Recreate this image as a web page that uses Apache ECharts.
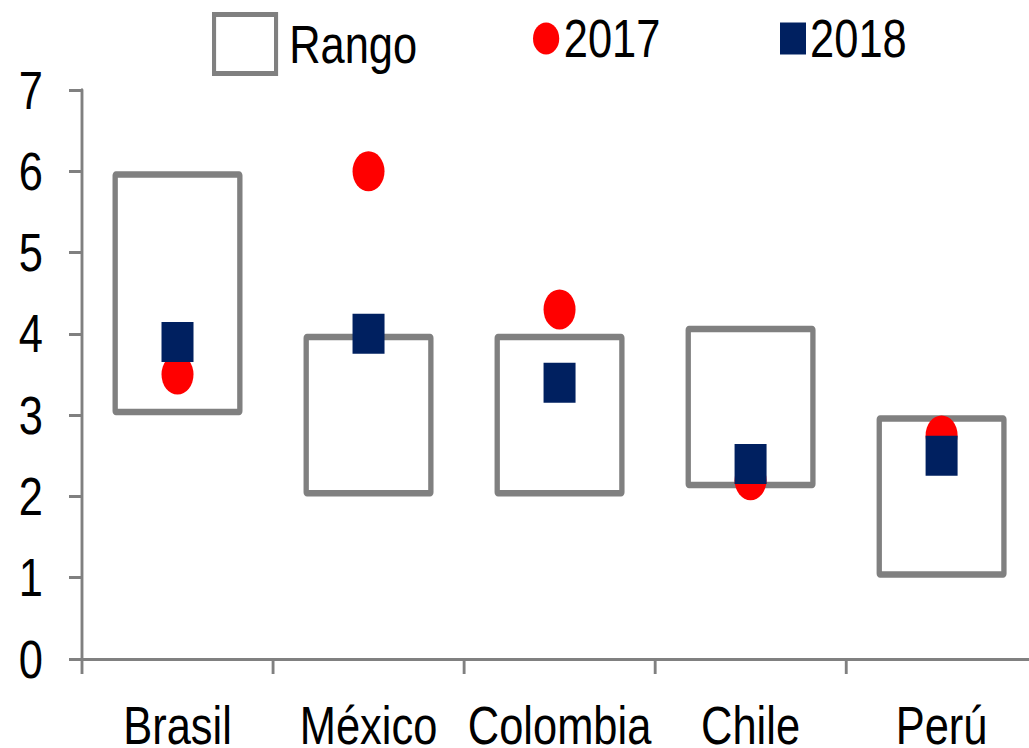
<!DOCTYPE html>
<html>
<head>
<meta charset="utf-8">
<script src="https://cdn.jsdelivr.net/npm/echarts@6/dist/echarts.min.js"></script>
<style>
html,body{margin:0;padding:0;background:#fff;overflow:hidden;}
#wrap{width:1029px;height:748px;overflow:hidden;position:relative;}
#chart{width:1255px;height:748px;transform:scaleX(0.82);transform-origin:0 0;position:absolute;left:0;top:0;}
</style>
</head>
<body>
<div id="wrap"><div id="chart"></div></div>
<script>
var categories = ['Brasil', 'México', 'Colombia', 'Chile', 'Perú'];
var rangoMin = [3, 2, 2, 2.1, 1];
var rangoMax = [6, 4, 4, 4.1, 3];
var v2017 = [3.5, 6.0, 4.3, 2.2, 2.75];
var v2018 = [3.9, 4.0, 3.4, 2.4, 2.5];
var yTicks = [0, 1, 2, 3, 4, 5, 6, 7];

// the page is drawn 1/0.82 wider and squeezed horizontally to imitate a narrow font
var SX = 0.82;
function w(px) { return px / SX; }

var FONT = "'Liberation Sans', Arial, sans-serif";
var GRAY = '#808080';
var RED = '#FF0000';
var NAVY = '#002060';
var ELLIPSE = 'path://M50,0 A50,50 0 1,1 50,100 A50,50 0 1,1 50,0 Z';

var rangoSpan = rangoMax.map(function (v, i) { return +(v - rangoMin[i]).toFixed(4); });

var chart = echarts.init(document.getElementById('chart'), null, {renderer: 'svg'});
chart.setOption({
  animation: false,
  backgroundColor: '#fff',
  grid: {left: w(82), right: w(-8), top: 90, bottom: 89, containLabel: false, outerBoundsMode: 'none'},
  legend: [
    {
      left: w(212), top: 12, padding: 0,
      itemWidth: w(62), itemHeight: 59,
      data: [{name: 'Rango', icon: 'rect', itemStyle: {color: 'rgba(255,255,255,0)', borderColor: GRAY, borderWidth: 5}}],
      textStyle: {fontFamily: FONT, fontSize: 53, color: '#000', padding: [0, 0, 0, w(9)]},
      selectedMode: false
    },
    {
      left: w(533), top: 12, padding: 0,
      itemWidth: w(27), itemHeight: 32,
      data: [{name: '2017', icon: ELLIPSE, itemStyle: {color: RED}}],
      textStyle: {fontFamily: FONT, fontSize: 53, color: '#000'},
      selectedMode: false
    },
    {
      left: w(780), top: 12, padding: 0,
      itemWidth: w(26), itemHeight: 32,
      data: [{name: '2018', icon: 'rect', itemStyle: {color: NAVY}}],
      textStyle: {fontFamily: FONT, fontSize: 53, color: '#000'},
      selectedMode: false
    }
  ],
  xAxis: {
    type: 'category',
    data: categories,
    boundaryGap: true,
    axisLine: {show: true, lineStyle: {color: GRAY, width: 3}},
    axisTick: {show: true, length: 15, lineStyle: {color: GRAY, width: 3.5}},
    axisLabel: {fontFamily: FONT, fontSize: 53, lineHeight: 42, color: '#000', margin: 45, interval: 0},
    splitLine: {show: false}
  },
  yAxis: {
    type: 'value',
    min: yTicks[0], max: yTicks[yTicks.length - 1], interval: 1,
    axisLine: {show: true, lineStyle: {color: GRAY, width: 3.5}},
    axisTick: {show: true, length: w(13), lineStyle: {color: GRAY, width: 3}},
    axisLabel: {fontFamily: FONT, fontSize: 53, color: '#000', margin: w(39)},
    splitLine: {show: false}
  },
  series: [
    {
      name: 'base', type: 'bar', stack: 'r', barWidth: w(130),
      data: rangoMin, itemStyle: {color: 'rgba(0,0,0,0)'}, silent: true
    },
    {
      name: '2017', type: 'scatter', data: v2017,
      symbol: ELLIPSE, symbolSize: [w(32), 40],
      itemStyle: {color: RED, opacity: 1}
    },
    {
      name: 'Rango', type: 'bar', stack: 'r', barWidth: w(130),
      data: rangoSpan,
      itemStyle: {color: 'rgba(255,255,255,0)', borderColor: GRAY, borderWidth: 6.5, borderRadius: 1}
    },
    {
      name: '2018', type: 'scatter', data: v2018,
      symbol: 'rect', symbolSize: [w(32), 40],
      itemStyle: {color: NAVY, opacity: 1}
    }
  ]
});
</script>
</body>
</html>
